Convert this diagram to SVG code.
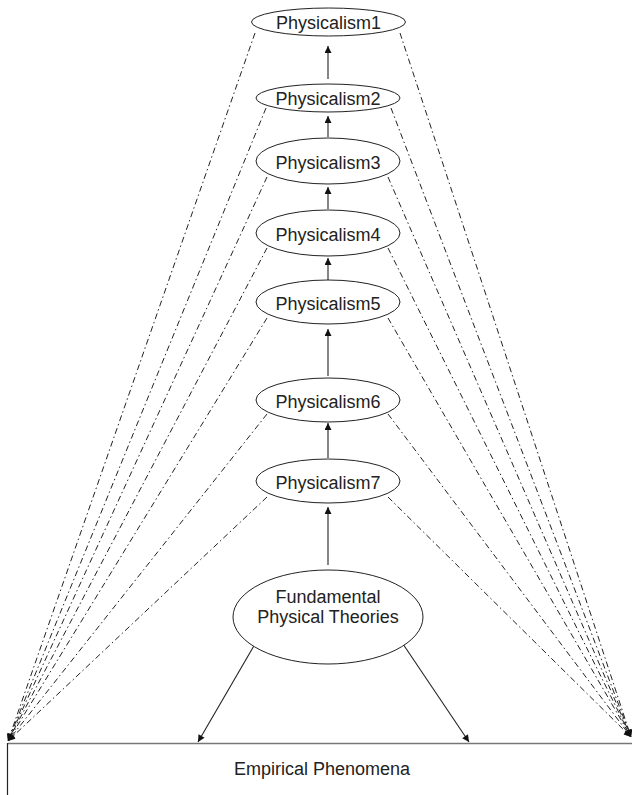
<svg xmlns="http://www.w3.org/2000/svg" width="632" height="795" viewBox="0 0 632 795">
<style>
.n ellipse{fill:#fff;stroke:#222;stroke-width:1}
.n text,.t{font-family:"Liberation Sans",Arial,sans-serif;font-size:18px;fill:#222;text-anchor:middle}
.s{stroke:#222;stroke-width:1.1;fill:none}
.d{stroke:#222;stroke-width:1;fill:none;stroke-dasharray:6 3 1.5 3}
</style>
<defs>
<marker id="a" viewBox="0 0 10 10" refX="10" refY="5" markerWidth="8" markerHeight="7" markerUnits="userSpaceOnUse" orient="auto"><path d="M0,0L10,5L0,10z" fill="#111"/></marker>
</defs>
<rect width="632" height="795" fill="#fff"/>
<g id="connectors">
<line class="s" x1="328" y1="79" x2="328" y2="46" marker-end="url(#a)"/>
<line class="s" x1="328" y1="137" x2="328" y2="116" marker-end="url(#a)"/>
<line class="s" x1="328" y1="209" x2="328" y2="187" marker-end="url(#a)"/>
<line class="s" x1="328" y1="280" x2="328" y2="258" marker-end="url(#a)"/>
<line class="s" x1="328" y1="376" x2="328" y2="329" marker-end="url(#a)"/>
<line class="s" x1="328" y1="458" x2="328" y2="423" marker-end="url(#a)"/>
<line class="s" x1="328" y1="565" x2="328" y2="507" marker-end="url(#a)"/>
<line class="s" x1="255" y1="644" x2="198" y2="742" marker-end="url(#a)"/>
<line class="s" x1="403" y1="644" x2="469" y2="742" marker-end="url(#a)"/>
<g class="dl">
<line class="d" x1="255" y1="33" x2="8" y2="741" marker-end="url(#a)"/>
<line class="d" x1="266" y1="108" x2="8" y2="741" marker-end="url(#a)"/>
<line class="d" x1="267" y1="177" x2="8" y2="741" marker-end="url(#a)"/>
<line class="d" x1="267" y1="248" x2="8" y2="741" marker-end="url(#a)"/>
<line class="d" x1="267" y1="318" x2="8" y2="741" marker-end="url(#a)"/>
<line class="d" x1="267" y1="414" x2="8" y2="741" marker-end="url(#a)"/>
<line class="d" x1="267" y1="497" x2="8" y2="741" marker-end="url(#a)"/>
<line class="d" x1="400" y1="33" x2="631" y2="737" marker-end="url(#a)"/>
<line class="d" x1="391" y1="108" x2="631" y2="737" marker-end="url(#a)"/>
<line class="d" x1="388" y1="177" x2="631" y2="737" marker-end="url(#a)"/>
<line class="d" x1="388" y1="248" x2="631" y2="737" marker-end="url(#a)"/>
<line class="d" x1="388" y1="318" x2="631" y2="737" marker-end="url(#a)"/>
<line class="d" x1="388" y1="414" x2="631" y2="737" marker-end="url(#a)"/>
<line class="d" x1="388" y1="497" x2="631" y2="737" marker-end="url(#a)"/>
</g>
</g>
<g id="p1" class="n"><ellipse cx="328.5" cy="22" rx="77" ry="14"/><text x="328.5" y="28.5">Physicalism1</text></g>
<g id="p2" class="n"><ellipse cx="328" cy="98" rx="72" ry="14"/><text x="328" y="104.5">Physicalism2</text></g>
<g id="p3" class="n"><ellipse cx="328" cy="161" rx="72" ry="23"/><text x="328" y="169">Physicalism3</text></g>
<g id="p4" class="n"><ellipse cx="328" cy="233" rx="72" ry="23"/><text x="328" y="241">Physicalism4</text></g>
<g id="p5" class="n"><ellipse cx="328" cy="302" rx="72" ry="22"/><text x="328" y="310">Physicalism5</text></g>
<g id="p6" class="n"><ellipse cx="328" cy="400" rx="72" ry="22"/><text x="328" y="408">Physicalism6</text></g>
<g id="p7" class="n"><ellipse cx="328" cy="481" rx="72" ry="22"/><text x="328" y="489">Physicalism7</text></g>
<g id="fpt" class="n"><ellipse cx="328" cy="617" rx="95" ry="47"/><text x="328" y="603">Fundamental</text><text x="328" y="623">Physical Theories</text></g>
<g id="ep">
<line x1="8" y1="743.5" x2="632" y2="743.5" stroke="#777" stroke-width="1.5"/>
<line x1="7.5" y1="743" x2="7.5" y2="795" stroke="#222" stroke-width="1.2"/>
<text class="t" x="322" y="775">Empirical Phenomena</text>
</g>
</svg>
